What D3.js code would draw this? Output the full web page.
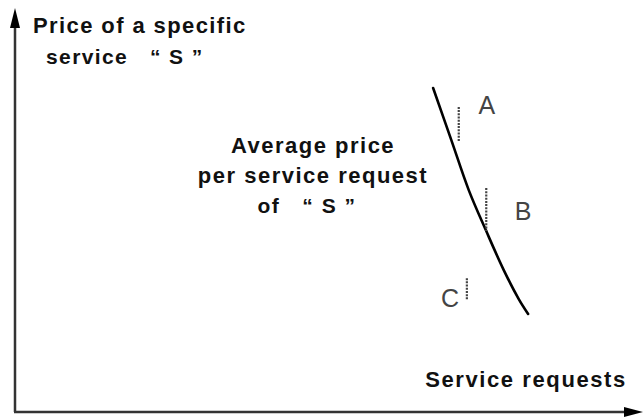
<!DOCTYPE html>
<html>
<head>
<meta charset="utf-8">
<script src="https://cdn.jsdelivr.net/npm/d3@7"></script>
<style>
  body { margin: 0; background: #fff; }
  text { font-family: "Liberation Sans", Arial, sans-serif; white-space: pre; }
</style>
</head>
<body>
<svg width="643" height="420"></svg>
<script>
const svg = d3.select("svg"),
    width = +svg.attr("width"),
    height = +svg.attr("height");

// demand-like curve: requests vs. average price (0..100 units on both axes)
const curveReq   = [66.9, 69.8, 72.6, 75.4, 78.2, 80.6, 82.1];
const curvePrice = [80.6, 67.7, 55.2, 45.0, 35.3, 28.1, 24.4];

// dotted price markers
const markerNames = ["A", "B", "C"];
const markerReq   = [71.0, 75.4, 72.3];
const markerTop   = [75.9, 55.7, 33.3];
const markerBot   = [67.2, 45.0, 27.9];
const labelReq    = [75.5, 81.3, 69.6];
const labelPrice  = [74.1, 47.8, 26.1];

const yTitle = ["Price of a specific", "service   \u201c S \u201d"];
const xTitle = "Service requests";
const curveNote = ["Average price", "per service request", "of   \u201c S \u201d"];

const x = d3.scaleLinear().domain([0, 100]).range([15, 640]);
const y = d3.scaleLinear().domain([0, 100]).range([412, 10]);

// axes
const axes = svg.append("g").attr("class", "axes");
axes.append("line")
    .attr("x1", x(0)).attr("y1", y(0))
    .attr("x2", x(0)).attr("y2", y(100) + 14)
    .attr("stroke", "#333").attr("stroke-width", 2.5);
axes.append("line")
    .attr("x1", x(0) - 1).attr("y1", y(0))
    .attr("x2", width - 14).attr("y2", y(0))
    .attr("stroke", "#333").attr("stroke-width", 2.5);
axes.append("path")
    .attr("d", `M${x(0)},${y(100) - 2} L${x(0) - 5},${y(100) + 18} L${x(0) + 5},${y(100) + 18} Z`)
    .attr("fill", "#000");
axes.append("path")
    .attr("d", `M${width},${y(0)} L${width - 19},${y(0) - 5} L${width - 19},${y(0) + 5} Z`)
    .attr("fill", "#000");

// titles
const yt = svg.append("text")
    .attr("y", 33)
    .attr("font-size", 22).attr("font-weight", "bold")
    .attr("letter-spacing", 1.4).attr("fill", "#111");
yt.selectAll("tspan")
  .data(yTitle)
  .enter().append("tspan")
    .attr("x", (d, i) => i ? 46 : 33)
    .attr("dy", (d, i) => i ? 31 : 0)
    .attr("font-size", (d, i) => i ? 21 : 22)
    .text(d => d);

svg.append("text")
    .attr("x", 526).attr("y", 387)
    .attr("text-anchor", "middle")
    .attr("font-size", 22).attr("font-weight", "bold")
    .attr("letter-spacing", 1.6).attr("fill", "#111")
    .text(xTitle);

svg.append("text")
    .attr("x", 313).attr("y", 153)
    .attr("text-anchor", "middle")
    .attr("font-size", 22).attr("font-weight", "bold")
    .attr("letter-spacing", 1.5).attr("fill", "#111")
  .selectAll("tspan")
  .data(curveNote)
  .enter().append("tspan")
    .attr("x", (d, i) => i === 2 ? 307 : 313)
    .attr("dy", (d, i) => i ? 30 : 0)
    .attr("font-size", (d, i) => i === 2 ? 21 : 22)
    .text(d => d);

// curve
const pts = curveReq.map((r, i) => [r, curvePrice[i]]);
svg.append("path")
    .datum(pts)
    .attr("fill", "none")
    .attr("stroke", "#000")
    .attr("stroke-width", 2.6)
    .attr("stroke-linecap", "round")
    .attr("d", d3.line().x(d => x(d[0])).y(d => y(d[1])).curve(d3.curveCatmullRom));

// markers
const markers = markerNames.map((n, i) => ({
  name: n, req: markerReq[i], top: markerTop[i], bot: markerBot[i],
  lx: labelReq[i], ly: labelPrice[i]
}));

svg.append("g").selectAll("line")
    .data(markers)
    .enter().append("line")
    .attr("x1", d => x(d.req)).attr("x2", d => x(d.req))
    .attr("y1", d => y(d.top)).attr("y2", d => y(d.bot))
    .attr("stroke", "#444")
    .attr("stroke-width", 2.2)
    .attr("stroke-dasharray", "2,1.2");

svg.append("g").selectAll("text")
    .data(markers)
    .enter().append("text")
    .attr("x", d => x(d.lx)).attr("y", d => y(d.ly))
    .attr("text-anchor", "middle")
    .attr("font-size", 25)
    .attr("fill", "#444")
    .text(d => d.name);
</script>
</body>
</html>
